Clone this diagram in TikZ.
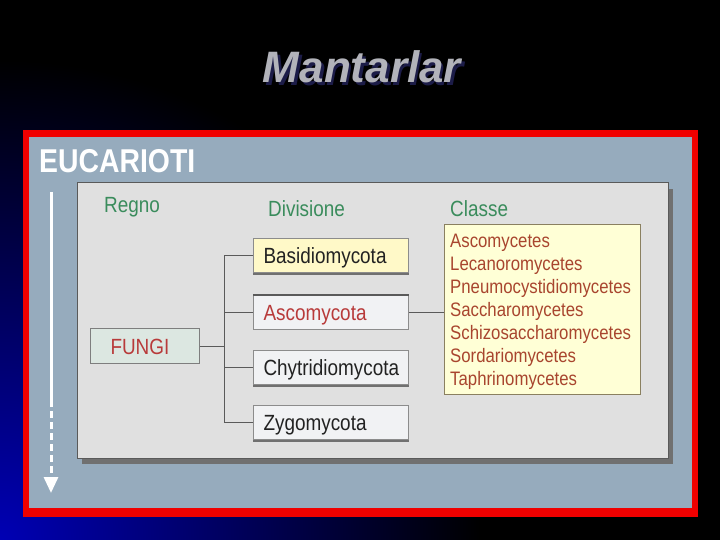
\documentclass[tikz,border=0pt]{standalone}
\usepackage{fontspec}
\setmainfont{Liberation Sans}
\newfontfamily\narrowfont[FakeStretch=0.86]{Liberation Sans}
\usetikzlibrary{arrows.meta}
\definecolor{panelblue}{HTML}{96ABBD}
\definecolor{innergray}{HTML}{E0E0E0}
\definecolor{shadowgray}{HTML}{707070}
\definecolor{framered}{HTML}{F00000}
\definecolor{hdrgreen}{HTML}{3A8C5C}
\definecolor{txtred}{HTML}{B83A3A}
\definecolor{clsbrown}{HTML}{A8452E}
\definecolor{yellowfill}{HTML}{FFF9C8}
\definecolor{clsfill}{HTML}{FFFFD6}
\definecolor{boxfill}{HTML}{F1F2F4}
\definecolor{fungifill}{HTML}{DCE7E1}
\definecolor{linegray}{HTML}{5A5A5A}
\definecolor{boxedge}{HTML}{8C8C8C}
\definecolor{clsedge}{HTML}{8A8060}
\definecolor{titlegray}{HTML}{B2B3BA}
\definecolor{titleshadow}{HTML}{1C1C48}
\definecolor{darktext}{HTML}{222222}
\definecolor{deepblue}{HTML}{0000B4}
\tikzset{
  hdr/.style={anchor=base west, inner sep=0pt, text=hdrgreen, font=\narrowfont\fontsize{22}{26}\selectfont},
  divbox/.style={anchor=north west, draw=boxedge, line width=1pt, inner xsep=10pt, inner ysep=0pt,
    text width=135pt, align=left, minimum height=34pt, text height=16pt, text depth=0pt,
    font=\narrowfont\fontsize{22}{26}\selectfont},
  conn/.style={draw=linegray, line width=1pt},
  clsbox/.style={anchor=north west, draw=clsedge, line width=1pt, fill=clsfill, minimum width=196pt, minimum height=170pt, inner sep=0pt},
  clstext/.style={anchor=north west, inner sep=0pt, align=left, text=clsbrown, font=\narrowfont\fontsize{19.5}{23}\selectfont},
  titlefont/.style={anchor=base, inner sep=0pt, font=\bfseries\itshape\fontsize{44}{50}\selectfont}
}
\begin{document}
\begin{tikzpicture}[x=1pt,y=-1pt]
\useasboundingbox (0,0) rectangle (720,540);
\fill[black] (0,0) rectangle (720,540);
\begin{scope}
  \clip (0,0) rectangle (720,540);
  \shade[inner color=deepblue, outer color=black] (0,540) circle (480);
\end{scope}
% title (with its shadow in the same node)
\node[titlefont, text=titlegray] (title) at (362,83)
  {\rlap{\hspace{2.5pt}\raisebox{-2.5pt}{\textcolor{titleshadow}{Mantarlar}}}Mantarlar};
% frame
\fill[framered] (23,130) rectangle (698,517);
\fill[panelblue] (29,137) rectangle (692,508);
\node[anchor=base west, inner sep=0pt, text=white, font=\narrowfont\bfseries\fontsize{33}{36}\selectfont] (euc) at (39,173) {EUCARIOTI};
% arrow
\coordinate (atop) at (51,192);
\coordinate (amid) at (51,400);
\coordinate (abot) at (51,493);
\draw[white, line width=3pt] (atop) -- (amid);
\draw[white, line width=3pt, dash pattern=on 7pt off 4pt, -{Triangle[width=14pt,length=16pt]}] (amid) -- (abot);
% panel
\fill[shadowgray] (82,189) rectangle (673,464);
\draw[draw=linegray, fill=innergray, line width=1pt] (77,183) rectangle (668,458);
% headers
\node[hdr] (regno) at (104,213) {Regno};
\node[hdr] (divis) at (268,216) {Divisione};
\node[hdr] (classe) at (450,216) {Classe};
% boxes
\node[divbox, fill=yellowfill, text=darktext] (basidio) at (253,238) {Basidiomycota};
\node[divbox, fill=boxfill, text=txtred] (ascomy) at (253,295) {Ascomycota};
\node[divbox, fill=boxfill, text=darktext] (chytr) at (253,350) {Chytridiomycota};
\node[divbox, fill=boxfill, text=darktext] (zygo) at (253,405) {Zygomycota};
\draw[boxedge!80!black, line width=2pt] ([yshift=-1pt]basidio.south west) -- ([yshift=-1pt]basidio.south east);
\draw[boxedge!80!black, line width=2pt] ([yshift=-1pt]chytr.south west) -- ([yshift=-1pt]chytr.south east);
\draw[boxedge!80!black, line width=2pt] ([yshift=-1pt]zygo.south west) -- ([yshift=-1pt]zygo.south east);
\draw[linegray, line width=2pt] (ascomy.north west) -- (ascomy.north east);
\node[anchor=north west, draw=boxedge!90!black, line width=1pt, fill=fungifill, inner xsep=20pt, inner ysep=0pt,
  text width=69pt, align=left, minimum height=35pt, text height=16pt, text depth=0pt, text=txtred,
  font=\narrowfont\fontsize{22}{26}\selectfont] (fungi) at (90,328) {FUNGI};
\node[clsbox] (clsbox) at (444,224) {};
\node[clstext] (clstext) at (450,234) {Ascomycetes\\Lecanoromycetes\\Pneumocystidiomycetes\\Saccharomycetes\\Schizosaccharomycetes\\Sordariomycetes\\Taphrinomycetes};
% connectors
\coordinate (jn) at (224,345);
\draw[conn] (fungi.east) -- (fungi.east -| jn);
\draw[conn] (basidio.west -| jn) -- (zygo.west -| jn);
\draw[conn] (basidio.west -| jn) -- (basidio.west);
\draw[conn] (ascomy.west -| jn) -- (ascomy.west);
\draw[conn] (chytr.west -| jn) -- (chytr.west);
\draw[conn] (zygo.west -| jn) -- (zygo.west);
\draw[conn] (ascomy.east) -- (ascomy.east -| clsbox.west);
\end{tikzpicture}
\end{document}
